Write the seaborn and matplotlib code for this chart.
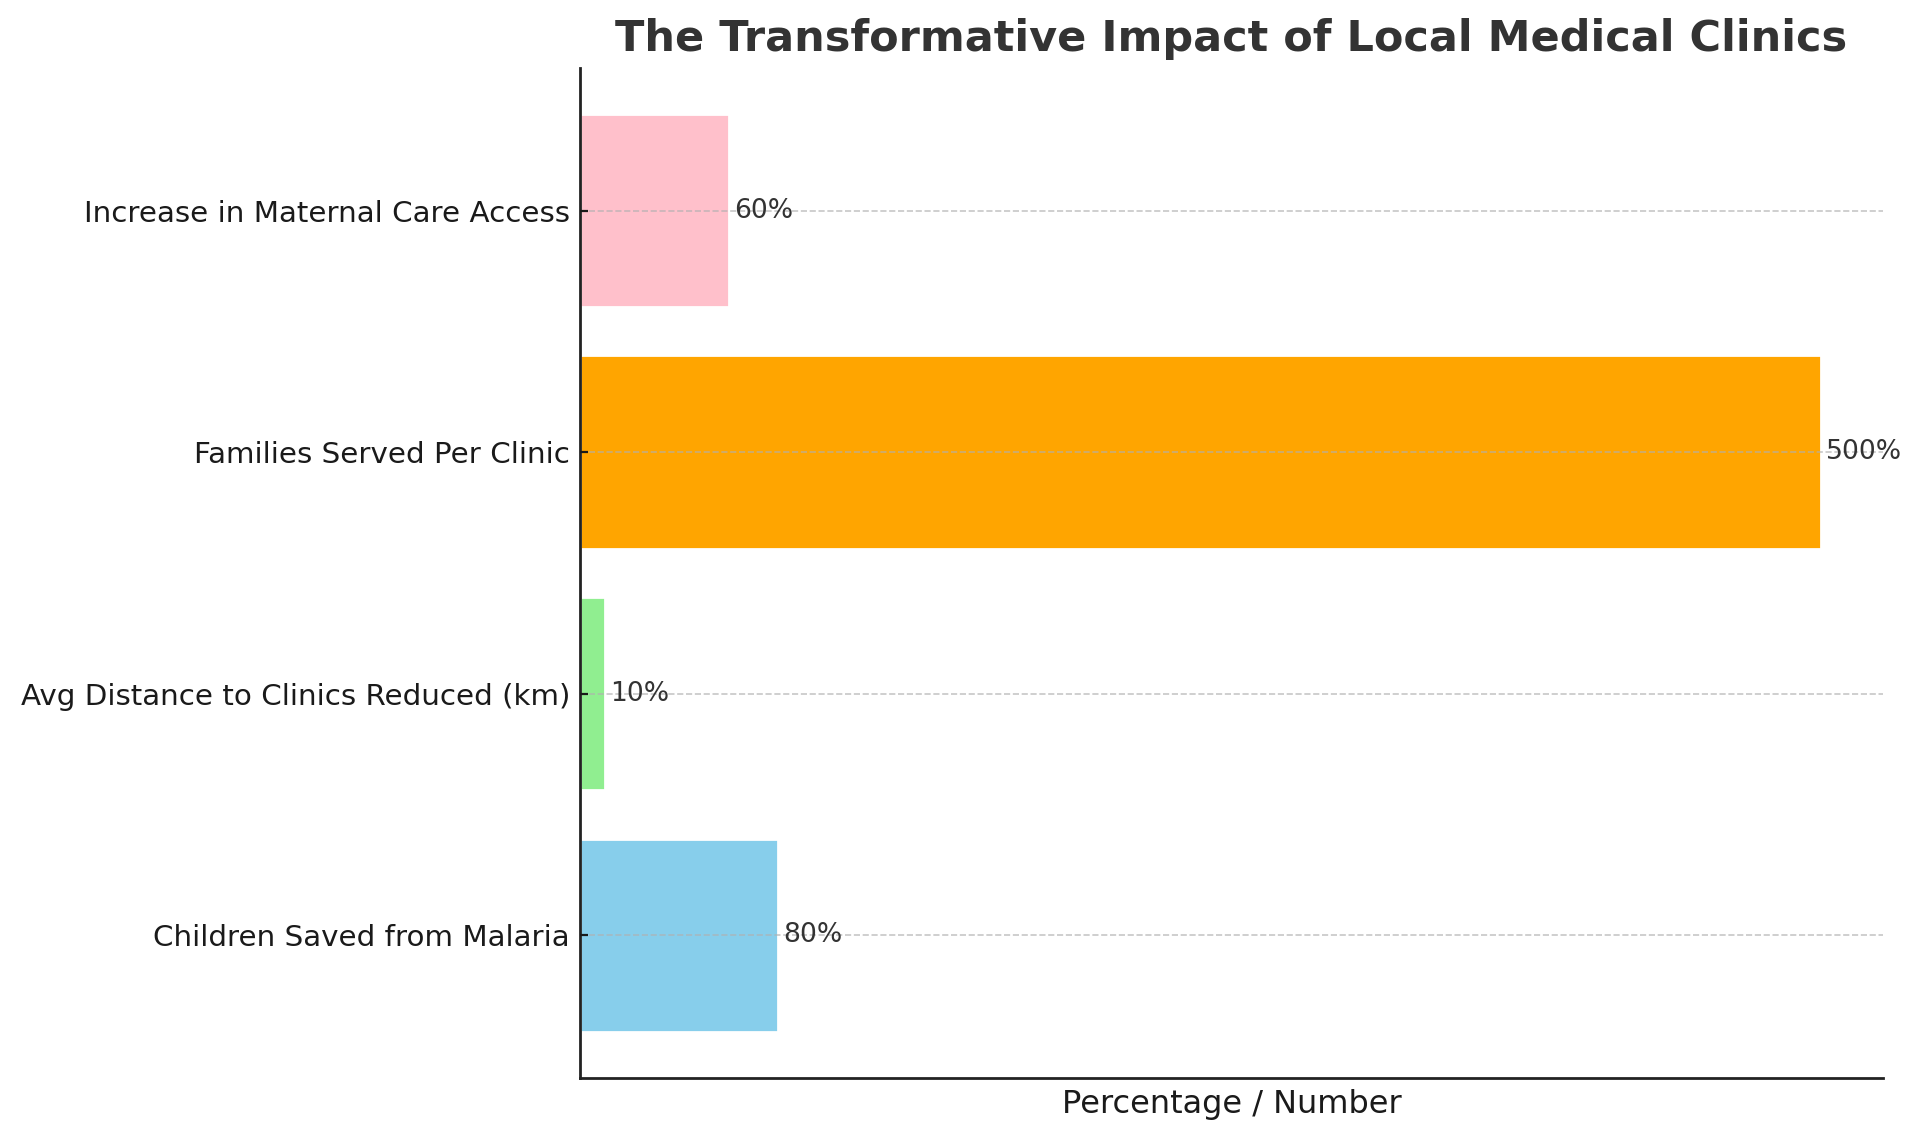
import matplotlib
matplotlib.use('Agg')
import matplotlib.pyplot as plt
import seaborn as sns

# top-to-bottom order as shown in the chart
categories = ['Increase in Maternal Care Access', 'Families Served Per Clinic',
              'Avg Distance to Clinics Reduced (km)', 'Children Saved from Malaria']
values = [60, 500, 10, 80]
colors = ['pink', 'orange', 'lightgreen', 'skyblue']
labels = ['60%', '500%', '10%', '80%']

sns.set_style('white')
plt.rcParams['font.family'] = ['DejaVu Sans']

fig, ax = plt.subplots(figsize=(9.6, 5.7), dpi=200)
fig.subplots_adjust(left=0.302, right=0.9807, top=0.9404, bottom=0.0544)

sns.barplot(x=values, y=categories, hue=categories, palette=colors, orient='h',
            saturation=1, width=0.8, legend=False, ax=ax)

for i, (v, lab) in enumerate(zip(values, labels)):
    ax.text(v + 2, i, lab, va='center', ha='left', fontsize=9.6, color='#333333')

ax.set_xlim(0, 525)
ax.set_ylim(3.59, -0.59)
ax.set_xticks([])
ax.set_xlabel('Percentage / Number', fontsize=11.5, color='#1a1a1a', labelpad=4)
ax.set_ylabel('')
ax.tick_params(axis='y', labelsize=10.6, length=3, width=0.8, pad=3.5,
               direction='in', left=True, colors='#1a1a1a')
ax.set_title('The Transformative Impact of Local Medical Clinics',
             fontsize=15.5, fontweight='bold', color='#333333', pad=6)

ax.grid(True, axis='y', linestyle='--', color='#b0b0b0', linewidth=0.6, alpha=0.7)
ax.set_axisbelow(False)
sns.despine(ax=ax)
for side in ['left', 'bottom']:
    ax.spines[side].set_color('#222222')
    ax.spines[side].set_linewidth(1.0)

fig.savefig('out.png', dpi=200)
